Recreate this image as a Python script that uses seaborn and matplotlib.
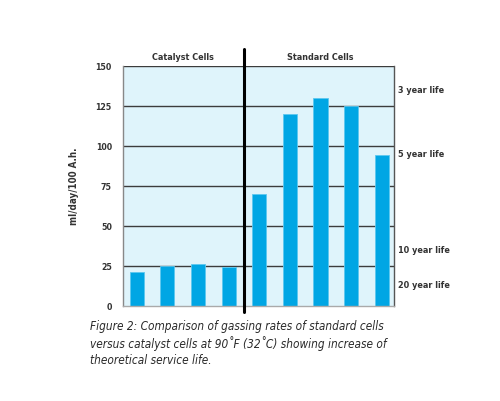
import numpy as np
import pandas as pd
import seaborn as sns
import matplotlib.pyplot as plt

# valores (ml/day/100 A.h.)
cells = ["C1", "C2", "C3", "C4", "S1", "S2", "S3", "S4", "S5"]
groups = ["Catalyst Cells"] * 4 + ["Standard Cells"] * 5
gassing = [21, 25, 26, 24, 70, 120, 130, 125, 94]
yticks = [0, 25, 50, 75, 100, 125, 150]
life_labels = ["3 year life", "5 year life", "10 year life", "20 year life"]
life_levels = [135, 95, 35, 13]

df = pd.DataFrame({"cell": cells, "group": groups, "gassing": gassing})

sns.set_style("white")
plt.rcParams["font.family"] = ["DejaVu Sans"]

fig = plt.figure(figsize=(5.0, 4.02), dpi=100)
ax = fig.add_axes([0.246, 0.237, 0.542, 0.597])
ax.set_facecolor("#dff4fb")

for y in yticks[1:]:
    ax.axhline(y, color="#3c3c3c", lw=1.0, zorder=1)

sns.barplot(data=df, x="cell", y="gassing", order=cells, color="#00a6e4",
            saturation=1, width=0.46, edgecolor="#5cc8f0", linewidth=0.6,
            ax=ax, zorder=2)

ax.set_xlim(-0.45, 8.4)
ax.set_ylim(0, 150)
ax.set_xticks([])
ax.set_yticks(yticks)
ax.set_yticklabels([str(t) for t in yticks], fontsize=6.3, fontweight="bold",
                   color="#333333", fontstretch="condensed")
ax.tick_params(axis="y", length=0, pad=8)
ax.set_xlabel("")
ax.set_ylabel("ml/day/100 A.h.", fontsize=7, fontweight="bold", color="#333333",
              labelpad=12, fontstretch="condensed")

ax.spines["top"].set_visible(False)
ax.spines["left"].set_color("#888888")
ax.spines["bottom"].set_color("#aaaaaa")
ax.spines["right"].set_color("#555555")
for s in ["left", "bottom", "right"]:
    ax.spines[s].set_linewidth(1.0)

# separação entre os dois grupos
ax.axvline(3.5, ymin=-0.026, ymax=1.07, color="black", lw=2.2, clip_on=False, zorder=5)

for xc, lab in [(1.5, "Catalyst Cells"), (6.0, "Standard Cells")]:
    ax.text(xc, 1.04, lab, transform=ax.get_xaxis_transform(), ha="center",
            va="center", fontsize=6.5, fontweight="bold", color="#333333",
            fontstretch="condensed")

for lab, lvl in zip(life_labels, life_levels):
    ax.text(1.015, lvl, lab, transform=ax.get_yaxis_transform(), ha="left", va="center",
            fontsize=6.5, fontweight="bold", color="#333333", fontstretch="condensed")

caption = ("Figure 2: Comparison of gassing rates of standard cells\n"
           "versus catalyst cells at 90\u02daF (32\u02daC) showing increase of\n"
           "theoretical service life.")
fig.text(0.18, 0.203, caption, ha="left", va="top", fontsize=8.5, style="italic",
         color="#2a2a2a", linespacing=1.25, fontstretch="condensed")

fig.savefig("out.png", dpi=100)
